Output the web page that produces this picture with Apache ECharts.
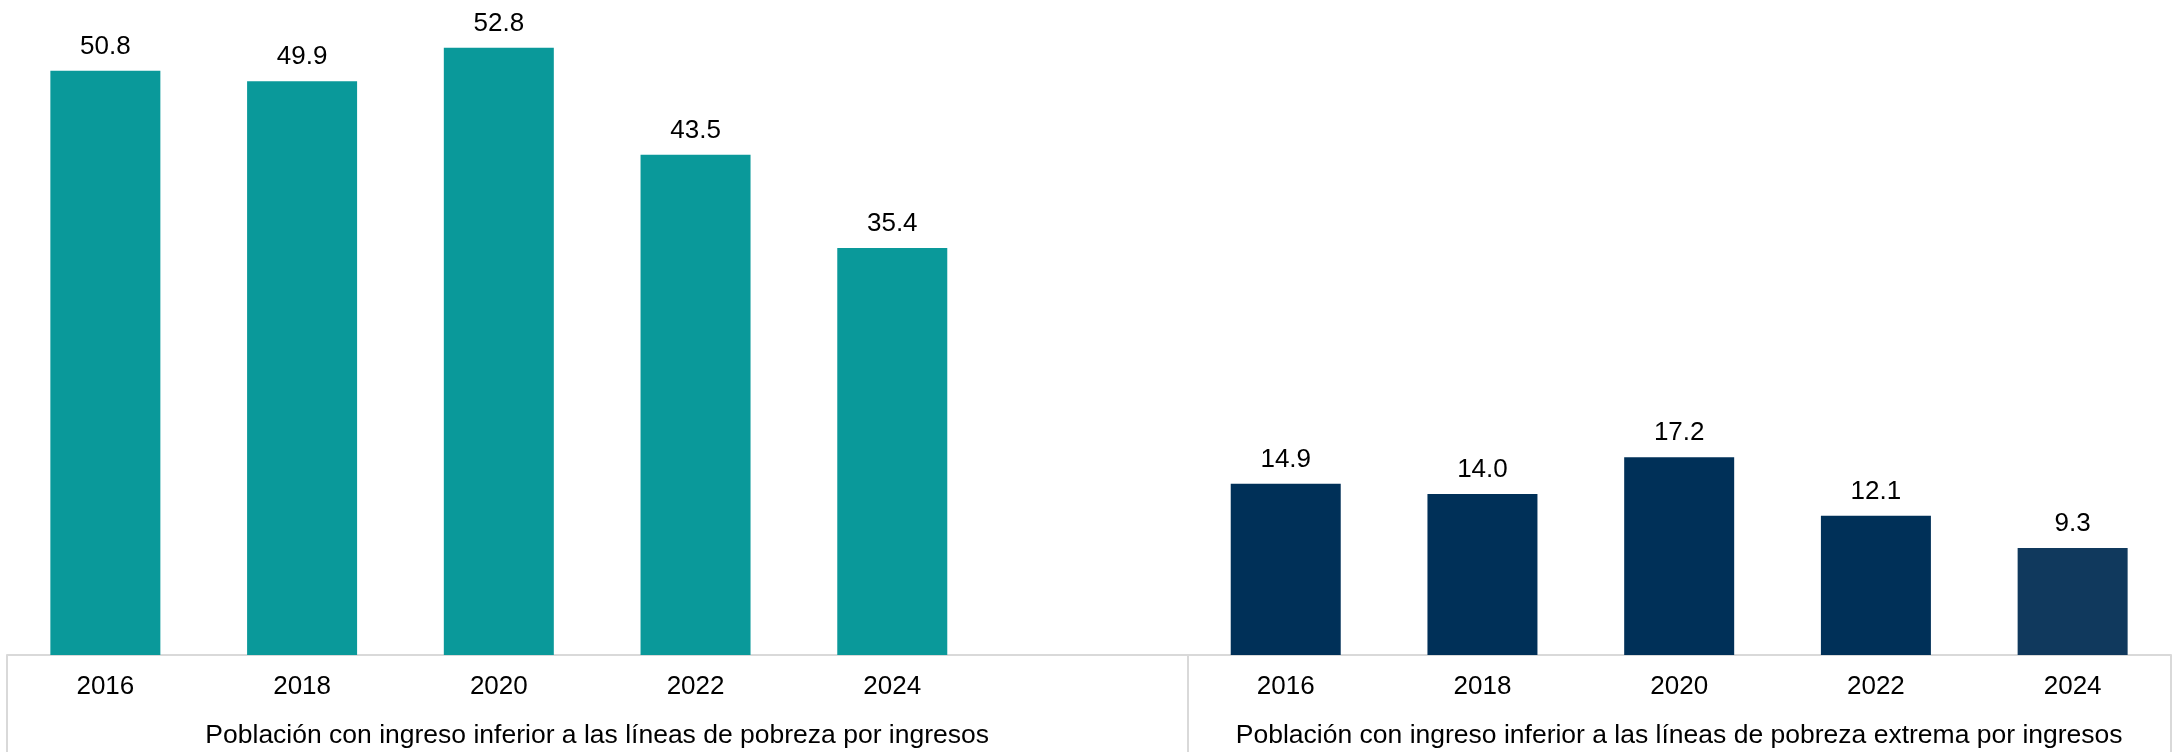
<!DOCTYPE html>
<html><head><meta charset="utf-8">
<script src="https://cdn.jsdelivr.net/npm/echarts@6/dist/echarts.min.js"></script>
<style>html,body{margin:0;padding:0;background:#fff}#c{width:2177px;height:752px}</style>
</head><body><div id="c"></div>
<script>
const years = ['2016','2018','2020','2022','2024'];
const povertyValues = [50.8, 49.9, 52.8, 43.5, 35.4];
const extremeValues = [14.9, 14.0, 17.2, 12.1, 9.3];
const groupNames = ['Población con ingreso inferior a las líneas de pobreza por ingresos',
                    'Población con ingreso inferior a las líneas de pobreza extrema por ingresos'];
const groupBoundaries = [0, 6, 11];
const groupCenters = [3, 8.5];

const categories = years.concat(['']).concat(years);
const tealData = povertyValues.concat(new Array(6).fill(null));
const navyData = new Array(6).fill(null).concat(extremeValues.map((v, i) =>
  i === extremeValues.length - 1 ? {value: v, itemStyle: {color: '#10395D'}} : v));

const font = 'Liberation Sans, Arial, sans-serif';
const chart = echarts.init(document.getElementById('c'));
chart.setOption({
  animation: false,
  grid: {left: 7, right: 6, top: 11, bottom: 97, containLabel: false},
  xAxis: [{
    type: 'category', data: categories,
    axisLine: {show: true, lineStyle: {color: '#d9d9d9', width: 2}},
    axisTick: {show: false},
    axisLabel: {color: '#000', fontFamily: font, fontSize: 26, margin: 19, interval: 0}
  }, {
    type: 'value', min: 0, max: 11, position: 'bottom',
    axisLine: {show: false},
    splitLine: {show: false},
    axisTick: {show: true, customValues: groupBoundaries, length: 97, inside: false,
               lineStyle: {color: '#d9d9d9', width: 2}},
    axisLabel: {show: true, customValues: groupCenters, color: '#000', fontFamily: font,
                fontSize: 26.5, margin: 67,
                formatter: v => groupNames[groupCenters.indexOf(v)] || ''}
  }],
  yAxis: {type: 'value', min: 0, max: 56, show: false, splitLine: {show: false}},
  series: [{
    type: 'bar', data: tealData, barWidth: 110, barGap: '-100%',
    itemStyle: {color: '#0A999A'},
    label: {show: true, position: 'top', distance: 11, color: '#000', fontFamily: font,
            fontSize: 26, formatter: p => p.value.toFixed(1)}
  }, {
    type: 'bar', data: navyData, barWidth: 110, barGap: '-100%',
    itemStyle: {color: '#003058'},
    label: {show: true, position: 'top', distance: 11, color: '#000', fontFamily: font,
            fontSize: 26, formatter: p => Number(p.value).toFixed(1)}
  }]
});
</script></body></html>
